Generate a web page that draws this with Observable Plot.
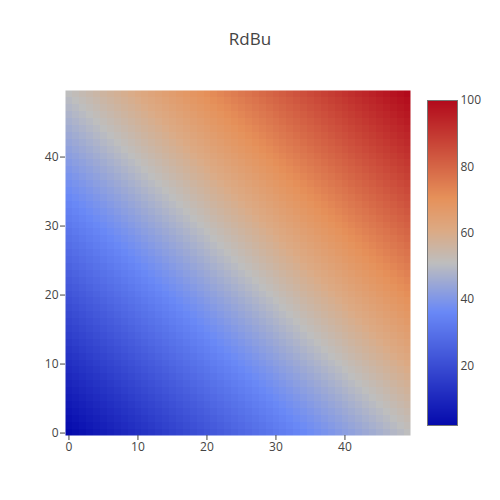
<!DOCTYPE html>
<html>
<head>
<meta charset="utf-8">
<script src="https://cdn.jsdelivr.net/npm/d3@7"></script>
<script src="https://cdn.jsdelivr.net/npm/@observablehq/plot@0.6"></script>
<style>
  html, body { margin: 0; padding: 0; background: #fff; }
  #wrap { position: relative; width: 500px; height: 500px; font-family: "Open Sans", sans-serif; }
  #title { position: absolute; left: 0; top: 27px; width: 500px; text-align: center; font-size: 17px; color: #444; }
  #main, #bar { position: absolute; top: 0; }
  #main { left: 0; }
  #bar { left: 400px; }
</style>
</head>
<body>
<div id="wrap">
  <div id="main"></div>
  <div id="bar"></div>
  <div id="title">RdBu</div>
</div>
<script>
// Grid coordinates
const xs = [0,1,2,3,4,5,6,7,8,9,10,11,12,13,14,15,16,17,18,19,20,21,22,23,24,25,26,27,28,29,30,31,32,33,34,35,36,37,38,39,40,41,42,43,44,45,46,47,48,49];
const ys = [0,1,2,3,4,5,6,7,8,9,10,11,12,13,14,15,16,17,18,19,20,21,22,23,24,25,26,27,28,29,30,31,32,33,34,35,36,37,38,39,40,41,42,43,44,45,46,47,48,49];
// z values read per cell: one row per y (bottom row first), one entry per x
const zRows = [
[2,3,4,5,6,7,8,9,10,11,12,13,14,15,16,17,18,19,20,21,22,23,24,25,26,27,28,29,30,31,32,33,34,35,36,37,38,39,40,41,42,43,44,45,46,47,48,49,50,51],
[3,4,5,6,7,8,9,10,11,12,13,14,15,16,17,18,19,20,21,22,23,24,25,26,27,28,29,30,31,32,33,34,35,36,37,38,39,40,41,42,43,44,45,46,47,48,49,50,51,52],
[4,5,6,7,8,9,10,11,12,13,14,15,16,17,18,19,20,21,22,23,24,25,26,27,28,29,30,31,32,33,34,35,36,37,38,39,40,41,42,43,44,45,46,47,48,49,50,51,52,53],
[5,6,7,8,9,10,11,12,13,14,15,16,17,18,19,20,21,22,23,24,25,26,27,28,29,30,31,32,33,34,35,36,37,38,39,40,41,42,43,44,45,46,47,48,49,50,51,52,53,54],
[6,7,8,9,10,11,12,13,14,15,16,17,18,19,20,21,22,23,24,25,26,27,28,29,30,31,32,33,34,35,36,37,38,39,40,41,42,43,44,45,46,47,48,49,50,51,52,53,54,55],
[7,8,9,10,11,12,13,14,15,16,17,18,19,20,21,22,23,24,25,26,27,28,29,30,31,32,33,34,35,36,37,38,39,40,41,42,43,44,45,46,47,48,49,50,51,52,53,54,55,56],
[8,9,10,11,12,13,14,15,16,17,18,19,20,21,22,23,24,25,26,27,28,29,30,31,32,33,34,35,36,37,38,39,40,41,42,43,44,45,46,47,48,49,50,51,52,53,54,55,56,57],
[9,10,11,12,13,14,15,16,17,18,19,20,21,22,23,24,25,26,27,28,29,30,31,32,33,34,35,36,37,38,39,40,41,42,43,44,45,46,47,48,49,50,51,52,53,54,55,56,57,58],
[10,11,12,13,14,15,16,17,18,19,20,21,22,23,24,25,26,27,28,29,30,31,32,33,34,35,36,37,38,39,40,41,42,43,44,45,46,47,48,49,50,51,52,53,54,55,56,57,58,59],
[11,12,13,14,15,16,17,18,19,20,21,22,23,24,25,26,27,28,29,30,31,32,33,34,35,36,37,38,39,40,41,42,43,44,45,46,47,48,49,50,51,52,53,54,55,56,57,58,59,60],
[12,13,14,15,16,17,18,19,20,21,22,23,24,25,26,27,28,29,30,31,32,33,34,35,36,37,38,39,40,41,42,43,44,45,46,47,48,49,50,51,52,53,54,55,56,57,58,59,60,61],
[13,14,15,16,17,18,19,20,21,22,23,24,25,26,27,28,29,30,31,32,33,34,35,36,37,38,39,40,41,42,43,44,45,46,47,48,49,50,51,52,53,54,55,56,57,58,59,60,61,62],
[14,15,16,17,18,19,20,21,22,23,24,25,26,27,28,29,30,31,32,33,34,35,36,37,38,39,40,41,42,43,44,45,46,47,48,49,50,51,52,53,54,55,56,57,58,59,60,61,62,63],
[15,16,17,18,19,20,21,22,23,24,25,26,27,28,29,30,31,32,33,34,35,36,37,38,39,40,41,42,43,44,45,46,47,48,49,50,51,52,53,54,55,56,57,58,59,60,61,62,63,64],
[16,17,18,19,20,21,22,23,24,25,26,27,28,29,30,31,32,33,34,35,36,37,38,39,40,41,42,43,44,45,46,47,48,49,50,51,52,53,54,55,56,57,58,59,60,61,62,63,64,65],
[17,18,19,20,21,22,23,24,25,26,27,28,29,30,31,32,33,34,35,36,37,38,39,40,41,42,43,44,45,46,47,48,49,50,51,52,53,54,55,56,57,58,59,60,61,62,63,64,65,66],
[18,19,20,21,22,23,24,25,26,27,28,29,30,31,32,33,34,35,36,37,38,39,40,41,42,43,44,45,46,47,48,49,50,51,52,53,54,55,56,57,58,59,60,61,62,63,64,65,66,67],
[19,20,21,22,23,24,25,26,27,28,29,30,31,32,33,34,35,36,37,38,39,40,41,42,43,44,45,46,47,48,49,50,51,52,53,54,55,56,57,58,59,60,61,62,63,64,65,66,67,68],
[20,21,22,23,24,25,26,27,28,29,30,31,32,33,34,35,36,37,38,39,40,41,42,43,44,45,46,47,48,49,50,51,52,53,54,55,56,57,58,59,60,61,62,63,64,65,66,67,68,69],
[21,22,23,24,25,26,27,28,29,30,31,32,33,34,35,36,37,38,39,40,41,42,43,44,45,46,47,48,49,50,51,52,53,54,55,56,57,58,59,60,61,62,63,64,65,66,67,68,69,70],
[22,23,24,25,26,27,28,29,30,31,32,33,34,35,36,37,38,39,40,41,42,43,44,45,46,47,48,49,50,51,52,53,54,55,56,57,58,59,60,61,62,63,64,65,66,67,68,69,70,71],
[23,24,25,26,27,28,29,30,31,32,33,34,35,36,37,38,39,40,41,42,43,44,45,46,47,48,49,50,51,52,53,54,55,56,57,58,59,60,61,62,63,64,65,66,67,68,69,70,71,72],
[24,25,26,27,28,29,30,31,32,33,34,35,36,37,38,39,40,41,42,43,44,45,46,47,48,49,50,51,52,53,54,55,56,57,58,59,60,61,62,63,64,65,66,67,68,69,70,71,72,73],
[25,26,27,28,29,30,31,32,33,34,35,36,37,38,39,40,41,42,43,44,45,46,47,48,49,50,51,52,53,54,55,56,57,58,59,60,61,62,63,64,65,66,67,68,69,70,71,72,73,74],
[26,27,28,29,30,31,32,33,34,35,36,37,38,39,40,41,42,43,44,45,46,47,48,49,50,51,52,53,54,55,56,57,58,59,60,61,62,63,64,65,66,67,68,69,70,71,72,73,74,75],
[27,28,29,30,31,32,33,34,35,36,37,38,39,40,41,42,43,44,45,46,47,48,49,50,51,52,53,54,55,56,57,58,59,60,61,62,63,64,65,66,67,68,69,70,71,72,73,74,75,76],
[28,29,30,31,32,33,34,35,36,37,38,39,40,41,42,43,44,45,46,47,48,49,50,51,52,53,54,55,56,57,58,59,60,61,62,63,64,65,66,67,68,69,70,71,72,73,74,75,76,77],
[29,30,31,32,33,34,35,36,37,38,39,40,41,42,43,44,45,46,47,48,49,50,51,52,53,54,55,56,57,58,59,60,61,62,63,64,65,66,67,68,69,70,71,72,73,74,75,76,77,78],
[30,31,32,33,34,35,36,37,38,39,40,41,42,43,44,45,46,47,48,49,50,51,52,53,54,55,56,57,58,59,60,61,62,63,64,65,66,67,68,69,70,71,72,73,74,75,76,77,78,79],
[31,32,33,34,35,36,37,38,39,40,41,42,43,44,45,46,47,48,49,50,51,52,53,54,55,56,57,58,59,60,61,62,63,64,65,66,67,68,69,70,71,72,73,74,75,76,77,78,79,80],
[32,33,34,35,36,37,38,39,40,41,42,43,44,45,46,47,48,49,50,51,52,53,54,55,56,57,58,59,60,61,62,63,64,65,66,67,68,69,70,71,72,73,74,75,76,77,78,79,80,81],
[33,34,35,36,37,38,39,40,41,42,43,44,45,46,47,48,49,50,51,52,53,54,55,56,57,58,59,60,61,62,63,64,65,66,67,68,69,70,71,72,73,74,75,76,77,78,79,80,81,82],
[34,35,36,37,38,39,40,41,42,43,44,45,46,47,48,49,50,51,52,53,54,55,56,57,58,59,60,61,62,63,64,65,66,67,68,69,70,71,72,73,74,75,76,77,78,79,80,81,82,83],
[35,36,37,38,39,40,41,42,43,44,45,46,47,48,49,50,51,52,53,54,55,56,57,58,59,60,61,62,63,64,65,66,67,68,69,70,71,72,73,74,75,76,77,78,79,80,81,82,83,84],
[36,37,38,39,40,41,42,43,44,45,46,47,48,49,50,51,52,53,54,55,56,57,58,59,60,61,62,63,64,65,66,67,68,69,70,71,72,73,74,75,76,77,78,79,80,81,82,83,84,85],
[37,38,39,40,41,42,43,44,45,46,47,48,49,50,51,52,53,54,55,56,57,58,59,60,61,62,63,64,65,66,67,68,69,70,71,72,73,74,75,76,77,78,79,80,81,82,83,84,85,86],
[38,39,40,41,42,43,44,45,46,47,48,49,50,51,52,53,54,55,56,57,58,59,60,61,62,63,64,65,66,67,68,69,70,71,72,73,74,75,76,77,78,79,80,81,82,83,84,85,86,87],
[39,40,41,42,43,44,45,46,47,48,49,50,51,52,53,54,55,56,57,58,59,60,61,62,63,64,65,66,67,68,69,70,71,72,73,74,75,76,77,78,79,80,81,82,83,84,85,86,87,88],
[40,41,42,43,44,45,46,47,48,49,50,51,52,53,54,55,56,57,58,59,60,61,62,63,64,65,66,67,68,69,70,71,72,73,74,75,76,77,78,79,80,81,82,83,84,85,86,87,88,89],
[41,42,43,44,45,46,47,48,49,50,51,52,53,54,55,56,57,58,59,60,61,62,63,64,65,66,67,68,69,70,71,72,73,74,75,76,77,78,79,80,81,82,83,84,85,86,87,88,89,90],
[42,43,44,45,46,47,48,49,50,51,52,53,54,55,56,57,58,59,60,61,62,63,64,65,66,67,68,69,70,71,72,73,74,75,76,77,78,79,80,81,82,83,84,85,86,87,88,89,90,91],
[43,44,45,46,47,48,49,50,51,52,53,54,55,56,57,58,59,60,61,62,63,64,65,66,67,68,69,70,71,72,73,74,75,76,77,78,79,80,81,82,83,84,85,86,87,88,89,90,91,92],
[44,45,46,47,48,49,50,51,52,53,54,55,56,57,58,59,60,61,62,63,64,65,66,67,68,69,70,71,72,73,74,75,76,77,78,79,80,81,82,83,84,85,86,87,88,89,90,91,92,93],
[45,46,47,48,49,50,51,52,53,54,55,56,57,58,59,60,61,62,63,64,65,66,67,68,69,70,71,72,73,74,75,76,77,78,79,80,81,82,83,84,85,86,87,88,89,90,91,92,93,94],
[46,47,48,49,50,51,52,53,54,55,56,57,58,59,60,61,62,63,64,65,66,67,68,69,70,71,72,73,74,75,76,77,78,79,80,81,82,83,84,85,86,87,88,89,90,91,92,93,94,95],
[47,48,49,50,51,52,53,54,55,56,57,58,59,60,61,62,63,64,65,66,67,68,69,70,71,72,73,74,75,76,77,78,79,80,81,82,83,84,85,86,87,88,89,90,91,92,93,94,95,96],
[48,49,50,51,52,53,54,55,56,57,58,59,60,61,62,63,64,65,66,67,68,69,70,71,72,73,74,75,76,77,78,79,80,81,82,83,84,85,86,87,88,89,90,91,92,93,94,95,96,97],
[49,50,51,52,53,54,55,56,57,58,59,60,61,62,63,64,65,66,67,68,69,70,71,72,73,74,75,76,77,78,79,80,81,82,83,84,85,86,87,88,89,90,91,92,93,94,95,96,97,98],
[50,51,52,53,54,55,56,57,58,59,60,61,62,63,64,65,66,67,68,69,70,71,72,73,74,75,76,77,78,79,80,81,82,83,84,85,86,87,88,89,90,91,92,93,94,95,96,97,98,99],
[51,52,53,54,55,56,57,58,59,60,61,62,63,64,65,66,67,68,69,70,71,72,73,74,75,76,77,78,79,80,81,82,83,84,85,86,87,88,89,90,91,92,93,94,95,96,97,98,99,100]
];
const axisTicks = [0, 10, 20, 30, 40];
const colorTicks = [20, 40, 60, 80, 100];
const zMin = 2, zMax = 100;
// Plotly RdBu colorscale stops
const stopPos = [0, 0.35, 0.5, 0.6, 0.7, 1];
const stopColors = ["rgb(5,10,172)", "rgb(106,137,247)", "rgb(190,190,190)", "rgb(220,170,132)", "rgb(230,145,90)", "rgb(178,10,28)"];

const cells = [];
ys.forEach((y, j) => xs.forEach((x, i) => cells.push({x, y, z: zRows[j][i]})));

const colorScale = {
  type: "linear",
  domain: stopPos.map(p => zMin + p * (zMax - zMin)),
  range: stopColors,
  interpolate: "rgb"
};

const main = Plot.plot({
  width: 500, height: 500,
  marginLeft: 65, marginRight: 90, marginTop: 90, marginBottom: 65,
  style: {fontFamily: "'Open Sans', sans-serif", fontSize: "12px", color: "#444"},
  x: {domain: [-0.5, 49.5]},
  y: {domain: [-0.5, 49.5]},
  color: colorScale,
  marks: [
    Plot.raster(cells, {
      x: "x", y: "y", fill: "z",
      x1: -0.5, x2: 49.5, y1: -0.5, y2: 49.5,
      width: xs.length, height: ys.length,
      imageRendering: "pixelated"
    }),
    Plot.axisX({ticks: axisTicks, tickSize: 5, tickPadding: 2, label: null, stroke: "#444", fill: "#444"}),
    Plot.axisY({ticks: axisTicks, tickSize: 5, tickPadding: 2, label: null, stroke: "#444", fill: "#444", dy: 1})
  ]
});
document.getElementById("main").appendChild(main);

const bar = Plot.plot({
  width: 100, height: 500,
  marginLeft: 27, marginRight: 43, marginTop: 100, marginBottom: 75,
  style: {fontFamily: "'Open Sans', sans-serif", fontSize: "12px", color: "#444"},
  x: {domain: [0, 1], axis: null},
  y: {domain: [zMin, zMax]},
  color: colorScale,
  marks: [
    Plot.raster({x1: 0, x2: 1, y1: zMin, y2: zMax, width: 1, height: 325, fill: (x, y) => y, interpolate: null}),
    Plot.frame({stroke: "#777", strokeWidth: 1}),
    Plot.axisY({anchor: "right", ticks: colorTicks, tickSize: 0, tickPadding: 3, label: null, fill: "#444"})
  ]
});
document.getElementById("bar").appendChild(bar);
</script>
</body>
</html>
